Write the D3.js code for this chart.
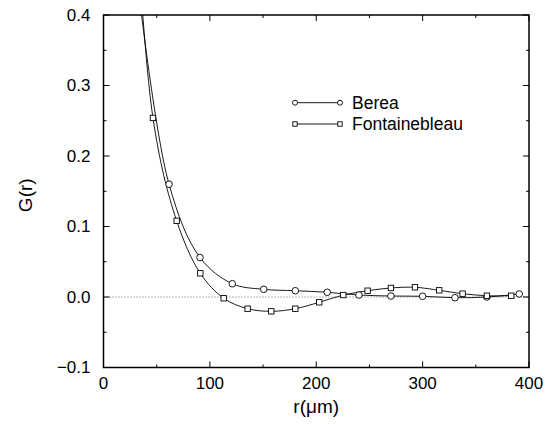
<!DOCTYPE html>
<html lang="en">
<head>
  <meta charset="UTF-8" />
  <title>G(r) Berea vs Fontainebleau</title>
  <style>
    body { margin: 0; background: #fff; }
    svg { display: block; font-family: "Liberation Sans", Arial, sans-serif; }
  </style>
</head>
<body>
  <svg id="chart"></svg>

  <script src="https://d3js.org/d3.v7.min.js"></script>
  <script>
    // values; first point of each series sits above the plot top (clipped)
    const bereaR = [31.8, 61.6, 90.7, 121.1, 150.6, 180.3, 210.3, 240.1, 270.2, 300.0, 330.4, 360.4, 390.8];
    const bereaG = [0.45, 0.160, 0.056, 0.0188, 0.0109, 0.0089, 0.0067, 0.0028, 0.0014, 0.0010, -0.001, 0.000, 0.0043];

    const fontR = [24.0, 46.5, 68.8, 91.0, 113.0, 135.5, 157.7, 180.3, 202.8, 225.4, 248.3, 270.2, 292.8, 315.6, 337.6, 360.4, 383.3];
    const fontG = [0.72, 0.254, 0.108, 0.0336, -0.0018, -0.0166, -0.0203, -0.0166, -0.0075, 0.0028, 0.0089, 0.0128, 0.0138, 0.0095, 0.0047, 0.0018, 0.0018];

    const xTicks = [0, 100, 200, 300, 400];
    const yTicks = [-0.1, 0.0, 0.1, 0.2, 0.3, 0.4];
    const seriesNames = ["Berea", "Fontainebleau"];

    const W = 557, H = 424;
    const margin = {top: 15, right: 28, bottom: 56.5, left: 103.5};
    const width = W - margin.left - margin.right;
    const height = H - margin.top - margin.bottom;

    const root = d3.select("#chart").attr("width", W).attr("height", H);
    const svg = root.append("g").attr("transform", `translate(${margin.left},${margin.top})`);

    const x = d3.scaleLinear().domain([0, 400]).range([0, width]);
    const y = d3.scaleLinear().domain([-0.1, 0.4]).range([height, 0]);

    svg.append("clipPath").attr("id", "clip")
      .append("rect").attr("width", width).attr("height", height);

    // zero line
    svg.append("line")
      .attr("x1", 0).attr("x2", width)
      .attr("y1", y(0)).attr("y2", y(0))
      .attr("stroke", "#444").attr("stroke-width", 0.8)
      .attr("stroke-dasharray", "1,2");

    // inward ticks on all four sides
    const xMinor = d3.range(50, 400, 100);
    const yMinor = d3.range(-0.05, 0.4, 0.1);
    const tickG = svg.append("g").attr("stroke", "#000").attr("stroke-width", 1);
    [[xTicks, 6], [xMinor, 3]].forEach(([vals, len]) => {
      vals.forEach(v => {
        tickG.append("line").attr("x1", x(v)).attr("x2", x(v)).attr("y1", height).attr("y2", height - len);
        tickG.append("line").attr("x1", x(v)).attr("x2", x(v)).attr("y1", 0).attr("y2", len);
      });
    });
    [[yTicks, 6], [yMinor, 3]].forEach(([vals, len]) => {
      vals.forEach(v => {
        tickG.append("line").attr("x1", 0).attr("x2", len).attr("y1", y(v)).attr("y2", y(v));
        tickG.append("line").attr("x1", width).attr("x2", width - len).attr("y1", y(v)).attr("y2", y(v));
      });
    });

    // frame
    svg.append("rect")
      .attr("width", width).attr("height", height)
      .attr("fill", "none").attr("stroke", "#000").attr("stroke-width", 1.5);

    // tick labels
    svg.selectAll(".xlab").data(xTicks).join("text")
      .attr("x", d => x(d)).attr("y", height + 21)
      .attr("text-anchor", "middle").attr("font-size", 17)
      .text(d => d);

    svg.selectAll(".ylab").data(yTicks).join("text")
      .attr("x", -13).attr("y", d => y(d)).attr("dy", "0.35em")
      .attr("text-anchor", "end").attr("font-size", 17)
      .text(d => d3.format(".1f")(d).replace("-", "\u2212"));

    // axis titles
    svg.append("text")
      .attr("x", width / 2).attr("y", height + 45)
      .attr("text-anchor", "middle").attr("font-size", 19)
      .text("r(\u03bcm)");

    svg.append("text")
      .attr("transform", `translate(${25 - margin.left},${height / 2 + 4}) rotate(-90)`)
      .attr("text-anchor", "middle").attr("dy", "0.35em").attr("font-size", 19)
      .text("G(r)");

    const line = d3.line().curve(d3.curveCatmullRom.alpha(0.5))
      .x(d => x(d[0])).y(d => y(d[1]));

    const berea = bereaR.map((r, i) => [r, bereaG[i]]);
    const fontaine = fontR.map((r, i) => [r, fontG[i]]);

    const plot = svg.append("g").attr("clip-path", "url(#clip)");

    [berea, fontaine].forEach(data => {
      plot.append("path").datum(data)
        .attr("fill", "none").attr("stroke", "#000").attr("stroke-width", 0.9)
        .attr("d", line);
    });

    plot.selectAll(".circ").data(berea).join("circle")
      .attr("cx", d => x(d[0])).attr("cy", d => y(d[1])).attr("r", 3.3)
      .attr("fill", "#fff").attr("stroke", "#000").attr("stroke-width", 0.9);

    const s = 5.4;
    plot.selectAll(".sq").data(fontaine).join("rect")
      .attr("x", d => x(d[0]) - s / 2).attr("y", d => y(d[1]) - s / 2)
      .attr("width", s).attr("height", s)
      .attr("fill", "#fff").attr("stroke", "#000").attr("stroke-width", 0.9);

    // legend
    const lx0 = 295 - margin.left, lx1 = 340 - margin.left;
    const legendY = [102.7 - margin.top, 124 - margin.top];
    seriesNames.forEach((name, i) => {
      const g = svg.append("g");
      g.append("line").attr("x1", lx0).attr("x2", lx1)
        .attr("y1", legendY[i]).attr("y2", legendY[i])
        .attr("stroke", "#000").attr("stroke-width", 0.9);
      [lx0, lx1].forEach(cx => {
        if (i === 0) {
          g.append("circle").attr("cx", cx).attr("cy", legendY[i]).attr("r", 2.5)
            .attr("fill", "#fff").attr("stroke", "#000").attr("stroke-width", 0.9);
        } else {
          g.append("rect").attr("x", cx - 2.2).attr("y", legendY[i] - 2.2)
            .attr("width", 4.4).attr("height", 4.4)
            .attr("fill", "#fff").attr("stroke", "#000").attr("stroke-width", 0.9);
        }
      });
      g.append("text").attr("x", 352 - margin.left).attr("y", legendY[i])
        .attr("dy", "0.35em").attr("font-size", 17.5)
        .text(name);
    });
  </script>
</body>
</html>
